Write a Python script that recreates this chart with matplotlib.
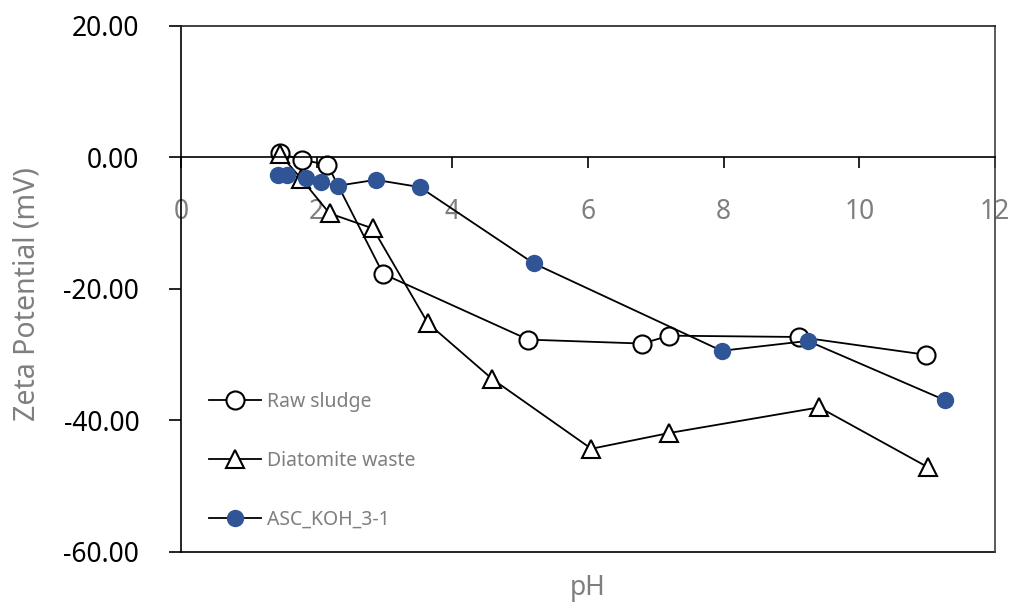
import matplotlib
matplotlib.use('Agg')
import matplotlib.pyplot as plt
from matplotlib.ticker import FormatStrFormatter

plt.rcParams['font.family'] = ['Noto Sans', 'DejaVu Sans']

# zeta potential vs pH
raw_ph = [1.46, 1.79, 2.16, 2.98, 5.12, 6.80, 7.20, 9.11, 10.98]
raw_zeta = [0.64, -0.38, -1.1, -17.7, -27.7, -28.3, -27.1, -27.3, -30.0]

diat_ph = [1.46, 1.77, 2.19, 2.83, 3.64, 4.59, 6.05, 7.20, 9.41, 11.01]
diat_zeta = [0.5, -3.2, -8.5, -10.8, -25.2, -33.7, -44.3, -41.9, -38.0, -47.1]

asc_ph = [1.43, 1.57, 1.85, 2.06, 2.31, 2.87, 3.52, 5.20, 7.97, 9.24, 11.26]
asc_zeta = [-2.6, -2.7, -3.1, -3.8, -4.3, -3.4, -4.5, -16.1, -29.4, -27.9, -36.9]

labels = ['Raw sludge', 'Diatomite waste', 'ASC_KOH_3-1']
x_ticks = [0, 2, 4, 6, 8, 10, 12]
y_ticks = [20, 0, -20, -40, -60]

gray = '#7f7f7f'
blue = '#2f5597'

fig = plt.figure(figsize=(10.16, 6.03), dpi=100)
ax = fig.add_axes([0.1781, 0.0846, 0.8012, 0.8723])

ax.plot(raw_ph, raw_zeta, color='black', lw=1.3, marker='o', ms=13,
        mfc='white', mec='black', mew=1.5, label=labels[0])
ax.plot(diat_ph, diat_zeta, color='black', lw=1.3, marker='^', ms=13,
        mfc='white', mec='black', mew=1.5, label=labels[1])
ax.plot(asc_ph, asc_zeta, color='black', lw=1.3, marker='o', ms=12.5,
        mfc=blue, mec=blue, mew=0, label=labels[2])

ax.set_xlim(0, 12)
ax.set_ylim(-60, 20)
ax.set_xticks(x_ticks)
ax.set_yticks(y_ticks)
ax.yaxis.set_major_formatter(FormatStrFormatter('%.2f'))

# x axis crosses at zero, box drawn around the plot area
ax.spines['bottom'].set_position(('data', 0))
for s in ['left', 'top', 'right', 'bottom']:
    ax.spines[s].set_linewidth(1.2)
ax.spines['right'].set_color('#404040')
ax.spines['top'].set_color('#202020')
ax.axhline(-60, color='black', lw=1.2, clip_on=False)

ax.tick_params(axis='x', direction='out', length=8, width=1.2, pad=21,
               labelsize=19, labelcolor=gray)
ax.tick_params(axis='y', direction='out', length=9, width=1.2, pad=21,
               labelsize=19, labelcolor='black')

ax.set_xlabel('pH', fontsize=19, color=gray)
ax.xaxis.set_label_coords(0.5, -0.041)
ax.set_ylabel('Zeta Potential (mV)', fontsize=20.5, color=gray)
ax.yaxis.set_label_coords(-0.171, 0.49)

ax.legend(loc='lower left', bbox_to_anchor=(0.034, 0.042), frameon=False,
          fontsize=14, labelcolor=gray, handlelength=2.7, handletextpad=0.3,
          labelspacing=2.0, borderpad=0, borderaxespad=0)

fig.savefig('out.png', dpi=100)
